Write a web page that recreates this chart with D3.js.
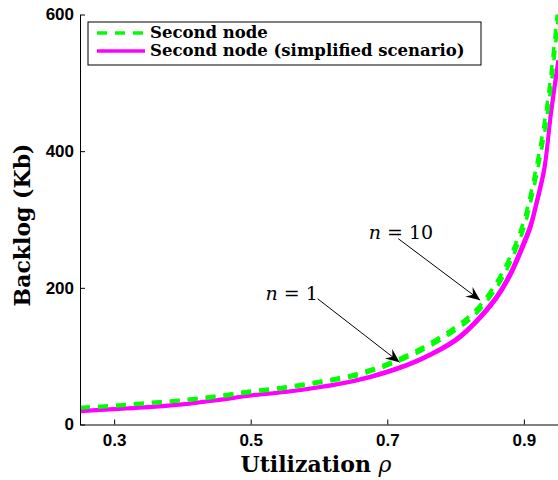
<!DOCTYPE html>
<html>
<head>
<meta charset="utf-8">
<script src="https://cdn.jsdelivr.net/npm/d3@7"></script>
<style>
body{margin:0;background:#fff;}
svg{display:block;}
.tick text{font-family:"Liberation Sans",Arial,sans-serif;font-weight:bold;font-size:17px;fill:#000;}
.axis path,.axis line{stroke:#000;stroke-width:1;}
</style>
</head>
<body>
<svg id="chart" width="558" height="480"></svg>
<script>
// utilisation values where the curves were read
var rho = [0.25,0.30,0.35,0.40,0.45,0.50,0.55,0.60,0.65,0.70,0.75,0.80,0.83,0.86,0.88,0.90,0.91,0.92,0.93,0.94,0.95];
// second node, n = 10 and n = 1 (green dashed)
var secondN10 = [25,28,32,36,42,49,55,63,73,89,112,143,168,208,246,298,338,386,441,515,612];
var secondN1  = [24,27,31,35,40,47,53,61,70,86,108,138,162,200,237,287,326,372,425,497,592];
// simplified scenario, n = 10 and n = 1 (magenta)
var simpleN10 = [20,23,26,30,36,43,48,55,64,78,97,125,152,188,222,268,294,333,378,462,533];
var simpleN1  = [19,22,25,29,35,42,47,54,63,76,95,122,149,184,217,262,288,327,371,454,525];
var xTicks = [0.3,0.5,0.7,0.9];
var yTicks = [0,200,400,600];
var legendNames = ["Second node","Second node (simplified scenario)"];

var serif = "'DejaVu Serif','Liberation Serif',serif";
var svg = d3.select("#chart");
var x = d3.scaleLinear().domain([0.25,0.95]).range([80,558]);
var y = d3.scaleLinear().domain([0,600]).range([424.5,14.5]);

svg.append("defs").append("clipPath").attr("id","plotClip")
  .append("rect").attr("x",80).attr("y",14.5).attr("width",478).attr("height",410);

var line = d3.line().x(function(d){return x(d[0]);}).y(function(d){return y(d[1]);}).curve(d3.curveCatmullRom);
function pairs(vals){ return rho.map(function(r,i){return [r,vals[i]];}); }

var g = svg.append("g").attr("clip-path","url(#plotClip)");
[simpleN1,simpleN10].forEach(function(s){
  g.append("path").attr("d",line(pairs(s))).attr("fill","none")
    .attr("stroke","#ff00ff").attr("stroke-width",3.5);
});
[secondN1,secondN10].forEach(function(s){
  g.append("path").attr("d",line(pairs(s))).attr("fill","none")
    .attr("stroke","#00ff00").attr("stroke-width",3.5).attr("stroke-dasharray","10,8");
});

// axes, ticks inward like matlab
svg.append("g").attr("class","axis").attr("transform","translate(0,424.5)")
  .call(d3.axisBottom(x).tickValues(xTicks).tickFormat(d3.format(".1f")).tickSizeInner(-5).tickSizeOuter(0).tickPadding(9));
svg.append("g").attr("class","axis").attr("transform","translate(80,0)")
  .call(d3.axisLeft(y).tickValues(yTicks).tickSizeInner(-5).tickSizeOuter(0).tickPadding(6));

// axis labels
var xl = svg.append("text").attr("x",316).attr("y",472).attr("text-anchor","middle")
  .style("font-family",serif).style("font-size","22px").style("font-weight","bold");
xl.append("tspan").text("Utilization ");
xl.append("tspan").style("font-style","italic").style("font-weight","normal").text("ρ");
svg.append("text").attr("transform","translate(30,225) rotate(-90)").attr("text-anchor","middle")
  .style("font-family",serif).style("font-size","22px").style("font-weight","bold")
  .text("Backlog (Kb)");

// legend
var lg = svg.append("g");
lg.append("rect").attr("x",88).attr("y",22).attr("width",393).attr("height",43)
  .attr("fill","#fff").attr("stroke","#000").attr("stroke-width",1);
legendNames.forEach(function(name,i){
  var ly = 33 + i*18;
  var l = lg.append("line").attr("x1",97).attr("x2",145).attr("y1",ly).attr("y2",ly)
    .attr("stroke-width",3.5).attr("stroke", i==0 ? "#00ff00" : "#ff00ff");
  if(i==0) l.attr("stroke-dasharray","10,8");
  lg.append("text").attr("x",150).attr("y",ly+5)
    .style("font-family",serif).style("font-size","16.5px").style("font-weight","bold")
    .text(name);
});

// annotations with arrows
var defs = svg.select("defs");
defs.append("marker").attr("id","arr").attr("viewBox","-14 -7 16 14").attr("refX",0).attr("refY",0)
  .attr("markerWidth",16).attr("markerHeight",14).attr("markerUnits","userSpaceOnUse").attr("orient","auto")
  .append("path").attr("d","M0,0 L-14,-6 L-9,0 L-14,6 Z").attr("fill","#000");

var notes = [
  {label:"10", tx:0.72, ty:281, x0:0.716, y0:272, x1:0.836, y1:182},
  {label:"1",  tx:0.56, ty:193, x0:0.598, y0:184, x1:0.718, y1:91}
];
notes.forEach(function(n){
  svg.append("line").attr("x1",x(n.x0)).attr("y1",y(n.y0)).attr("x2",x(n.x1)).attr("y2",y(n.y1))
    .attr("stroke","#000").attr("stroke-width",1).attr("marker-end","url(#arr)");
  var t = svg.append("text").attr("x",x(n.tx)).attr("y",y(n.ty)+7).attr("text-anchor","middle")
    .style("font-family",serif).style("font-size","19px");
  t.append("tspan").style("font-style","italic").text("n");
  t.append("tspan").text(" = "+n.label);
});
</script>
</body>
</html>
